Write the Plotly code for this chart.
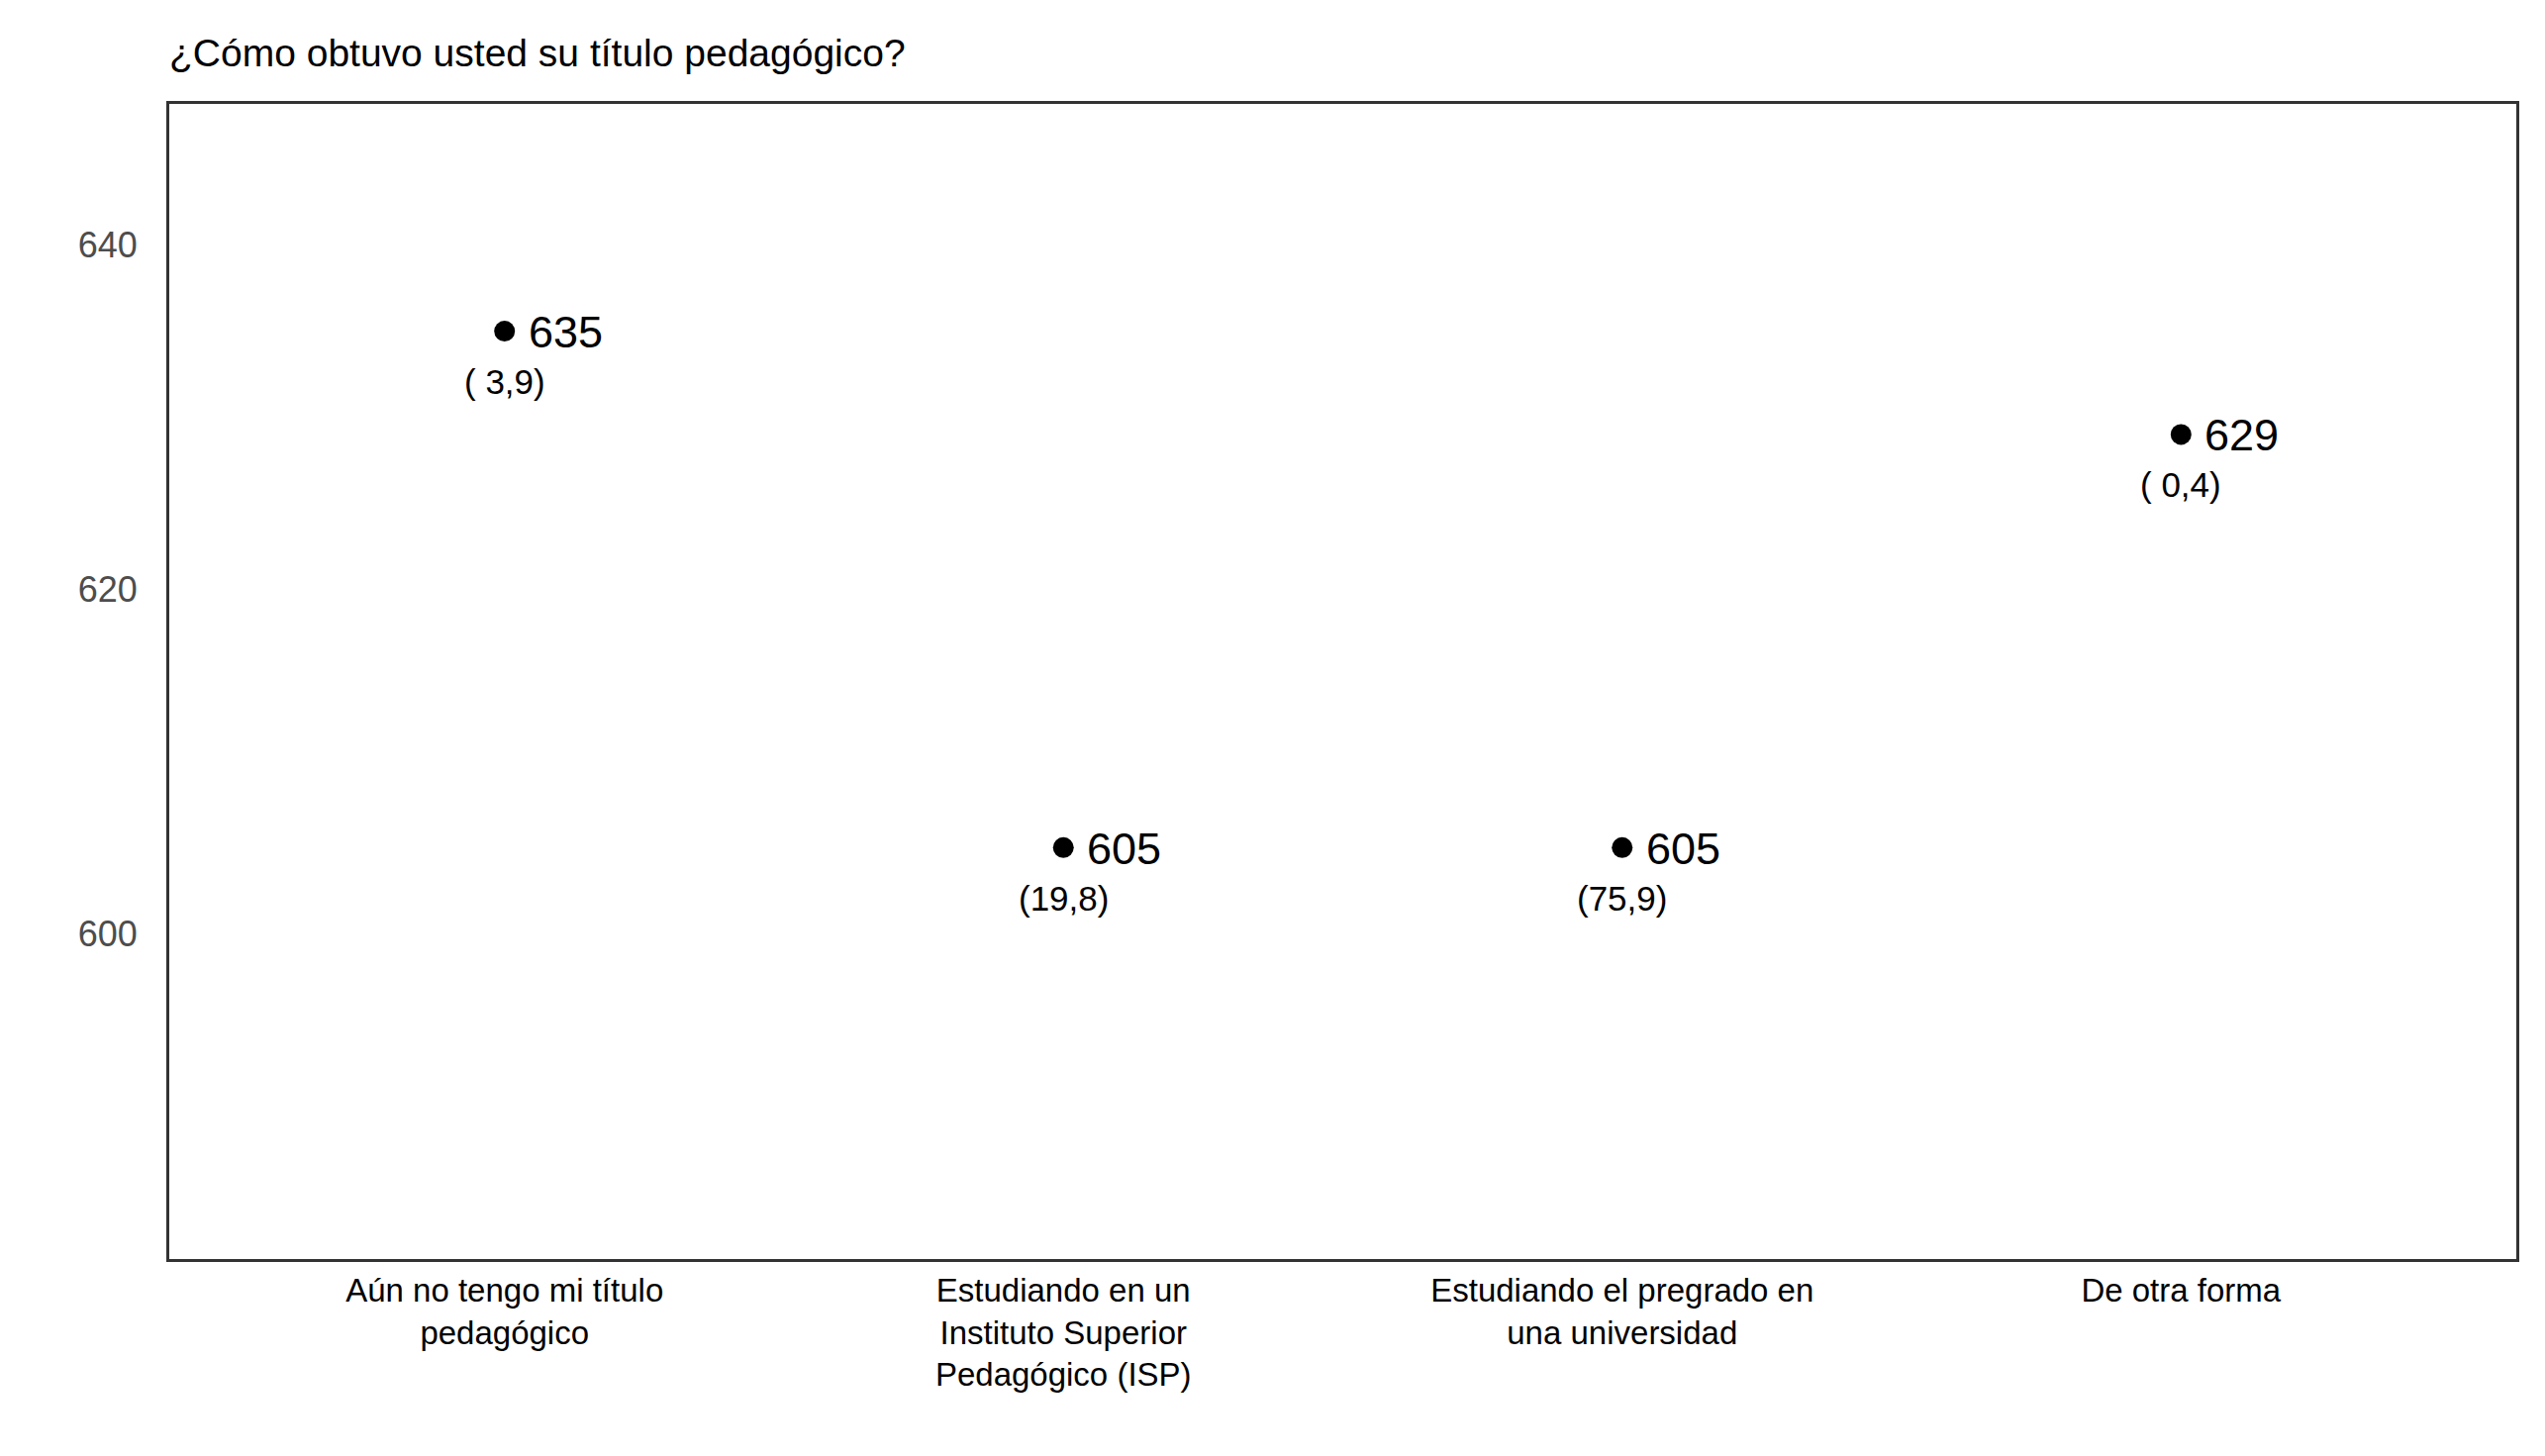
import plotly.graph_objects as go

# data
categories = [
    "Aún no tengo mi título<br>pedagógico",
    "Estudiando en un<br>Instituto Superior<br>Pedagógico (ISP)",
    "Estudiando el pregrado en<br>una universidad",
    "De otra forma",
]
scores = [635, 605, 605, 629]
shares = ["( 3,9)", "(19,8)", "(75,9)", "( 0,4)"]
y_ticks = [600, 620, 640]

FONT = "Liberation Sans, Arial, sans-serif"
W, H = 2571, 1471

x_pos = list(range(len(categories)))

fig = go.Figure()
fig.add_trace(go.Scatter(
    x=x_pos, y=scores,
    mode="markers",
    marker=dict(color="black", size=21),
    cliponaxis=False,
    showlegend=False,
    hoverinfo="skip",
))

# score to the right of each point, share below it
for xi, yi, s in zip(x_pos, scores, shares):
    fig.add_annotation(
        x=xi, y=yi, text=str(yi), showarrow=False,
        xanchor="left", yanchor="middle", xshift=22, yshift=-1,
        font=dict(family=FONT, size=45, color="black"),
    )
    fig.add_annotation(
        x=xi, y=yi, text=s, showarrow=False,
        xanchor="center", yanchor="middle", yshift=-51,
        font=dict(family=FONT, size=35, color="black"),
    )

fig.update_layout(
    width=W, height=H,
    margin=dict(l=163, r=37, t=97, b=207),
    paper_bgcolor="white", plot_bgcolor="white",
    font=dict(family=FONT),
    title=dict(
        text="¿Cómo obtuvo usted su título pedagógico?",
        x=163 / W, xanchor="left", xref="container",
        y=1 - 45 / H, yanchor="middle", yref="container",
        font=dict(family=FONT, size=39, color="black"),
    ),
)
fig.update_xaxes(
    range=[-0.6, 3.6],
    tickvals=x_pos, ticktext=categories,
    tickfont=dict(family=FONT, size=33, color="black"),
    showgrid=False, zeroline=False, ticks="",
    showline=True, linecolor="#333333", linewidth=3, mirror=True,
    ticklabelstandoff=0,
)
fig.update_yaxes(
    range=[581.1, 648.2],
    tickvals=y_ticks,
    tickfont=dict(family=FONT, size=36, color="#4d4d4d"),
    showgrid=False, zeroline=False, ticks="",
    showline=True, linecolor="#333333", linewidth=3, mirror=True,
    ticklabelstandoff=22,
)

fig.write_html("out.html")
